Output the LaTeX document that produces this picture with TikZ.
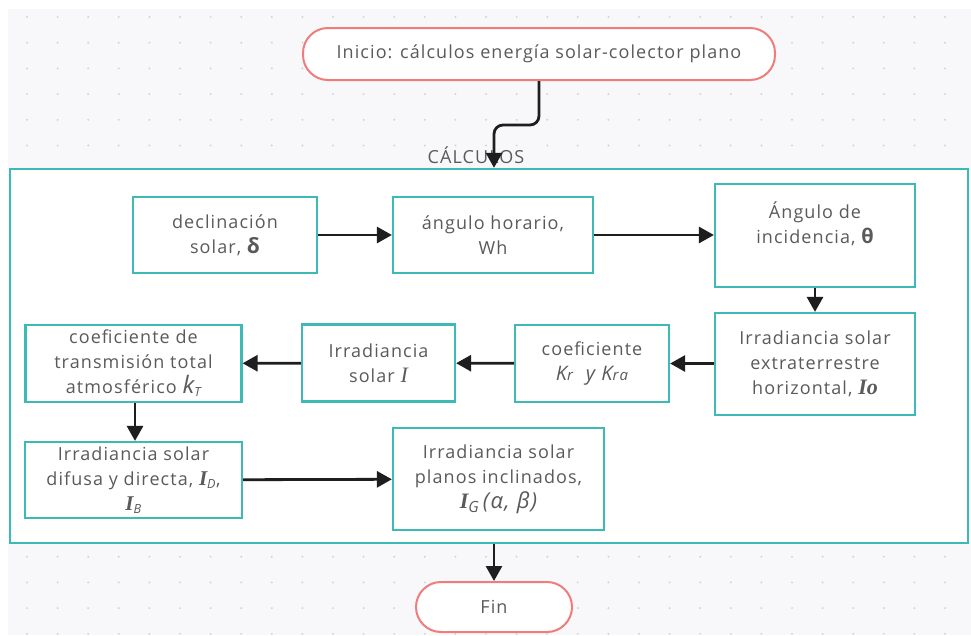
\documentclass[tikz,border=0pt]{standalone}
\usepackage{fontspec}
\setmainfont{Open Sans}[LetterSpace=6]
\newfontfamily\serifit{Liberation Serif}
\usetikzlibrary{arrows.meta}

\definecolor{boxteal}{HTML}{3DBAB5}
\definecolor{pillred}{HTML}{F07C7C}
\definecolor{txtgray}{HTML}{5A5A5A}
\definecolor{arrowblk}{HTML}{1E1E1E}
\definecolor{bggray}{HTML}{F8F8FA}
\definecolor{dotgray}{HTML}{D4D4D8}

\tikzset{
  stepbox/.style={draw=boxteal, line width=2.2pt, fill=white, align=center,
    text=txtgray, font=\fontsize{18}{25}\selectfont, inner sep=0pt},
  pill/.style={draw=pillred, line width=2pt, fill=white, rounded corners=25pt,
    align=center, text=txtgray, font=\fontsize{18}{25}\selectfont, inner sep=0pt},
  flow/.style={draw=arrowblk, line width=2.8pt, -{Triangle[length=15pt,width=16pt]}},
  container/.style={draw=boxteal, line width=2.4pt, fill=white, inner sep=0pt}
}

\begin{document}
\begin{tikzpicture}[x=1pt,y=-1pt]
\useasboundingbox (0,0) rectangle (971,635);
% canvas with dot grid
\fill[white] (0,0) rectangle (971,635);
\fill[bggray] (8,9) rectangle (971,635);
\foreach \i in {0,...,31}
  \foreach \j in {0,...,24}
    \fill[dotgray] (27+30.6*\i, 17+25.7*\j) circle (1.1pt);

% group frame
\node[container, minimum width=958pt, minimum height=374pt] (calc) at (489,356) {};
\node[text=txtgray, font=\fontsize{18}{20}\selectfont, anchor=base] (calctitle) at (476,163) {CÁLCULOS};

% terminals
\node[pill, minimum width=472pt, minimum height=52pt] (start) at (539,54)
  {Inicio: cálculos energía solar-colector plano};
\node[pill, minimum width=156pt, minimum height=50pt] (fin) at (494,607) {Fin};

% process steps
\node[stepbox, minimum width=184pt, minimum height=76pt] (b1) at (225,235)
  {declinación\\solar, {\fontsize{21}{25}\selectfont\bfseries δ}};
\node[stepbox, minimum width=200pt, minimum height=76pt] (b2) at (493,235)
  {ángulo horario,\\Wh};
\node[stepbox, minimum width=200pt, minimum height=103pt] (b3) at (815,235.5)
  {Ángulo de\\incidencia, {\fontsize{20}{25}\selectfont\bfseries θ}\\\mbox{}};
\node[stepbox, minimum width=200pt, minimum height=102pt] (b4) at (815,364)
  {Irradiancia solar\\extraterrestre\\horizontal, {\serifit\bfseries\itshape\fontsize{22}{25}\selectfont Io}};
\node[stepbox, minimum width=154pt, minimum height=77pt] (b5) at (592,363.5)
  {coeficiente\\{\itshape\fontsize{20}{25}\selectfont K{\fontsize{15}{25}\selectfont r}~ y K{\fontsize{15}{25}\selectfont ra}}};
\node[stepbox, minimum width=153pt, minimum height=77pt] (b6) at (378.5,363)
  {Irradiancia\\solar {\serifit\itshape\fontsize{22}{25}\selectfont I}};
\node[stepbox, minimum width=216pt, minimum height=77pt] (b7) at (133.5,363.5)
  {coeficiente de\\transmisión total\\atmosférico {\itshape\fontsize{24}{25}\selectfont k}\textsubscript{\itshape T}};
\node[stepbox, minimum width=217pt, minimum height=76pt] (b8) at (133.5,480)
  {Irradiancia solar\\difusa y directa, {\serifit\bfseries\itshape\fontsize{21}{25}\selectfont I}\textsubscript{\itshape D},\\{\serifit\bfseries\itshape\fontsize{21}{25}\selectfont I}\textsubscript{\itshape B}};
\node[stepbox, minimum width=211pt, minimum height=102pt] (b9) at (498.5,479)
  {Irradiancia solar\\planos inclinados,\\{\fontsize{22}{25}\selectfont\itshape{\serifit\bfseries I}\textsubscript{G}\,(α, β)}};

% connectors
\draw[flow, rounded corners=9pt] (start.south) -- ++(0,44) -| (calc.north -| fin.north);
\draw[flow] (b1) -- (b2);
\draw[flow] (b2) -- (b3.west |- b2);
\draw[flow] (b3) -- (b4);
\draw[flow] (b4.west |- b5) -- (b5);
\draw[flow] (b5) -- (b6);
\draw[flow] (b6) -- (b7);
\draw[flow] (b7.south -| 135,0) -- (b8.north -| 135,0);
\draw[flow] (b8) -- (b9);
\draw[flow] (calc.south -| fin.north) -- (fin.north);
\end{tikzpicture}
\end{document}
